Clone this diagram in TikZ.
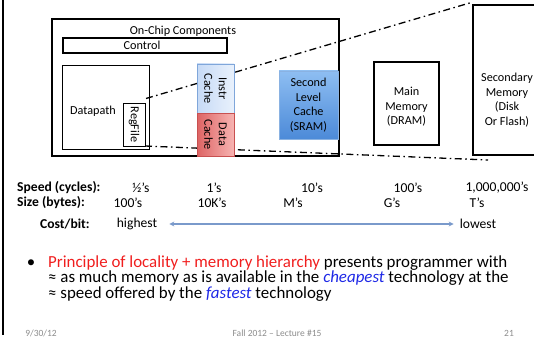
\documentclass[tikz,border=0pt]{standalone}
\usepackage{fontspec}
\setmainfont{Carlito}
\usetikzlibrary{arrows.meta}
\definecolor{icl}{HTML}{C6DAF6}
\definecolor{icr}{HTML}{E9F1FC}
\definecolor{icb}{HTML}{7FA6DA}
\definecolor{dcl}{HTML}{DD6464}
\definecolor{dcr}{HTML}{F7B4B2}
\definecolor{dcb}{HTML}{C85050}
\definecolor{slt}{HTML}{8EBEF2}
\definecolor{slb}{HTML}{4C8AD8}
\definecolor{slbd}{HTML}{8AB2E2}
\definecolor{arr}{HTML}{7A9ACB}
\definecolor{redtxt}{HTML}{F01E1E}
\definecolor{bluetxt}{HTML}{1E28E6}
\definecolor{foot}{HTML}{8C8C8C}
\tikzset{
  boxline/.style={draw=black, line width=1.2pt},
  lbl/.style={font=\fontsize{12.2}{14.5}\selectfont, align=center, inner sep=0pt},
  rowhead/.style={font=\fontsize{13.6}{15}\selectfont\bfseries, anchor=west, inner sep=0pt},
  rowval/.style={font=\fontsize{13.6}{15}\selectfont, inner sep=0pt},
  dashdot/.style={line width=1.3pt, dash pattern=on 7pt off 3.5pt on 1.5pt off 3.5pt},
  bodytxt/.style={font=\fontsize{16.9}{15.5}\selectfont, inner sep=0pt},
  foottxt/.style={font=\fontsize{9.5}{11}\selectfont, text=foot, inner sep=0pt}
}
\begin{document}
\begin{tikzpicture}[x=1pt, y=-1pt]
\useasboundingbox (0,0) rectangle (534,342);
% slide left border
\draw[line width=1.6pt] (3,0) -- (3,335);

% on-chip box
\node[boxline, minimum width=287pt, minimum height=137pt, inner sep=0pt] (chip) at (195.5,87.5) {};
\node[lbl] (chiplbl) at (183,31) {On-Chip Components};
\node[boxline, minimum width=164pt, minimum height=15pt, inner sep=0pt] (ctrl) at (145,45.5) {};
\node[lbl] (ctrllbl) at (142,45.5) {Control};

% datapath
\node[draw=black, line width=1pt, minimum width=87pt, minimum height=83pt, inner sep=0pt] (dp) at (105.5,107.5) {};
\node[lbl] (dplbl) at (93,111) {Datapath};
\node[draw=black, line width=1pt, minimum width=22pt, minimum height=43pt, inner sep=0pt] (rf) at (134,124.5) {};
\node[lbl, rotate=-90] (rflbl) at (134,124.5) {RegFile};

% dash-dot lines (behind boxes)
\coordinate (upS) at (146,98.5);
\coordinate (upE) at (473,2);
\coordinate (loS) at (145,146);
\coordinate (loE) at (488,160);
\draw[dashdot] (upS) -- (upE);
\draw[dashdot] (loS) -- (loE);

% caches
\node[draw=icb, line width=0.8pt, left color=icl, right color=icr, minimum width=37pt, minimum height=49pt, inner sep=0pt] (ic) at (215.5,88.5) {};
\node[lbl, rotate=-90] (iclbl) at (215.5,88.5) {Instr\\Cache};
\node[draw=dcb, line width=0.6pt, left color=dcl, right color=dcr, minimum width=37pt, minimum height=43pt, inner sep=0pt] (dc) at (215.5,134.5) {};
\node[lbl, rotate=-90] (dclbl) at (215.5,134.5) {Data\\Cache};
\node[draw=slbd, line width=0.6pt, top color=slt, bottom color=slb, minimum width=59pt, minimum height=68pt, inner sep=0pt] (l2) at (308.5,105) {};
\node[lbl] (l2lbl) at (308.5,105) {Second\\Level\\Cache\\(SRAM)};

% memories
\node[boxline, fill=white, minimum width=65pt, minimum height=83pt, inner sep=0pt] (mm) at (406.5,103.5) {};
\node[lbl] (mmlbl) at (406.5,107) {Main\\Memory\\(DRAM)};
\node[boxline, fill=white, minimum width=80pt, minimum height=150pt, inner sep=0pt] (sm) at (513,80) {};
\node[lbl] (smlbl) at (507,100) {Secondary\\Memory\\(Disk\\Or Flash)};

% rows
\node[rowhead] (sph) at (17,188) {Speed (cycles):};
\node[rowval] (s1) at (141,188) {½’s};
\node[rowval] (s2) at (214,188) {1’s};
\node[rowval] (s3) at (312,188) {10’s};
\node[rowval] (s4) at (408,188) {100’s};
\node[rowval] (s5) at (497,188) {1,000,000’s};

\node[rowhead] (szh) at (17,203) {Size (bytes):};
\node[rowval] (z1) at (128,203) {100’s};
\node[rowval] (z2) at (212,203) {10K’s};
\node[rowval] (z3) at (293,203) {M’s};
\node[rowval] (z4) at (392,203) {G’s};
\node[rowval] (z5) at (477,203) {T’s};

\node[rowhead] (cbh) at (40,224) {Cost/bit:};
\node[rowval] (hi) at (137,224) {highest};
\node[rowval] (lo) at (478,224) {lowest};
\path (hi.east) ++(12,0) coordinate (aL) (lo.west) ++(-6,0) coordinate (aR);
\draw[arr, line width=1.4pt, {Stealth[length=5pt,width=5pt]}-{Stealth[length=5pt,width=5pt]}] (aL) -- (aR);

% bullet
\node[bodytxt, anchor=base] (bul) at (31,267) {•};
\node[bodytxt, anchor=base west, align=left] (body) at (48,298) {\textcolor{redtxt}{Principle of locality + memory hierarchy} presents programmer with\\≈ as much memory as is available in the \textcolor{bluetxt}{\itshape cheapest} technology at the\\≈ speed offered by the \textcolor{bluetxt}{\itshape fastest} technology};

% footer
\node[foottxt] (f1) at (41,333) {9/30/12};
\node[foottxt] (f2) at (277,333) {Fall 2012 -- Lecture \#15};
\node[foottxt] (f3) at (509,333) {21};
\end{tikzpicture}
\end{document}
